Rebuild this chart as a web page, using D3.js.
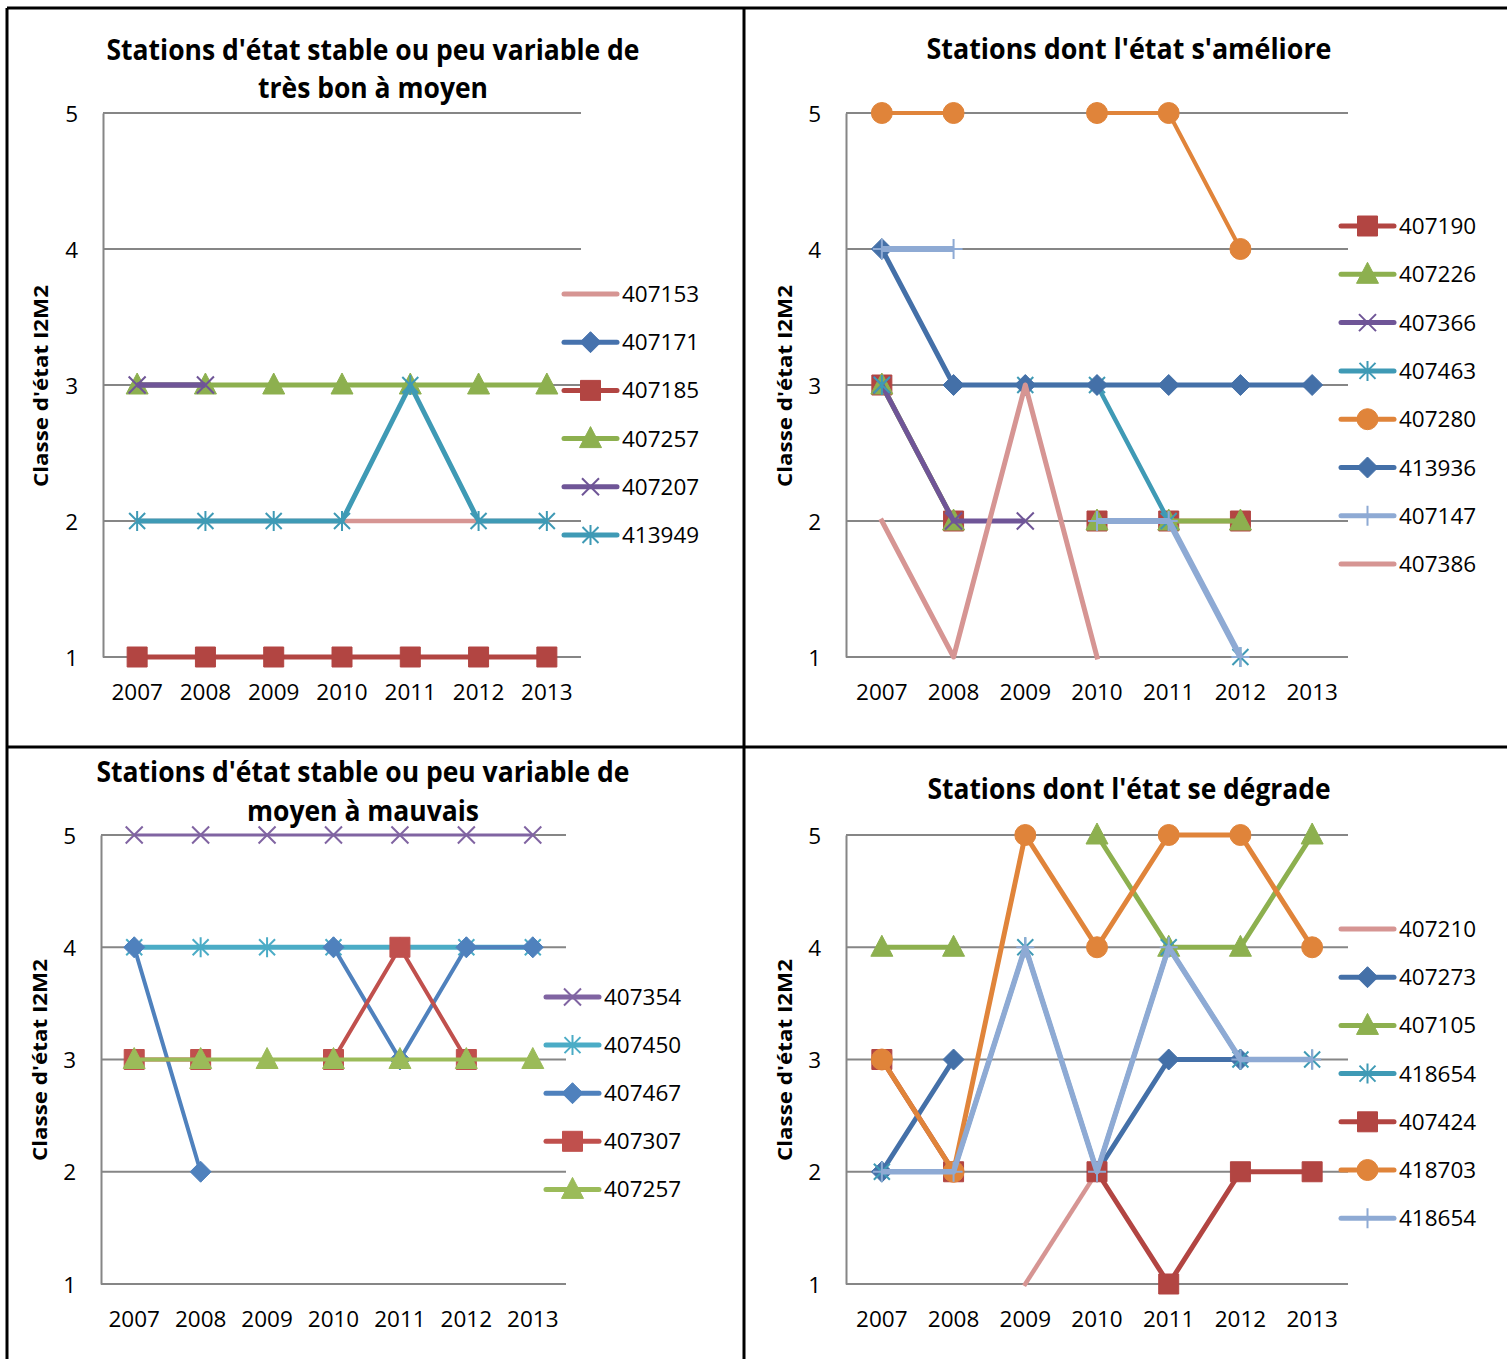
<!DOCTYPE html>
<html>
<head>
<meta charset="utf-8">
<script src="https://cdn.jsdelivr.net/npm/d3@7"></script>
<style>
  body { margin: 0; background: #fff; }
  svg { display: block; }
</style>
</head>
<body>
<div id="chart"></div>
<script>
// shared categories
var years = ["2007", "2008", "2009", "2010", "2011", "2012", "2013"];
var classTicks = [1, 2, 3, 4, 5];
var yLabel = "Classe d'état I2M2";

// panel 1 : stable, très bon à moyen
var p1Title = ["Stations d'état stable ou peu variable de", "très bon à moyen"];
var p1Stations = ["407153", "407171", "407185", "407257", "407207", "413949"];
var p1Values = [
  [2, 2, 2, 2, 2, 2, 2],
  [null, null, null, null, null, null, null],
  [1, 1, 1, 1, 1, 1, 1],
  [3, 3, 3, 3, 3, 3, 3],
  [3, 3, null, null, null, null, null],
  [2, 2, 2, 2, 3, 2, 2]
];

// panel 2 : s'améliore
var p2Title = ["Stations dont l'état  s'améliore"];
var p2Stations = ["407190", "407226", "407366", "407463", "407280", "413936", "407147", "407386"];
var p2Values = [
  [3, 2, null, 2, 2, 2, null],
  [3, 2, null, 2, 2, 2, null],
  [3, 2, 2, null, null, null, null],
  [3, null, 3, 3, 2, 1, null],
  [5, 5, null, 5, 5, 4, null],
  [4, 3, 3, 3, 3, 3, 3],
  [4, 4, null, 2, 2, 1, null],
  [2, 1, 3, 1, null, null, null]
];

// panel 3 : stable, moyen à mauvais
var p3Title = ["Stations d'état stable ou peu variable de", "moyen à mauvais"];
var p3Stations = ["407354", "407450", "407467", "407307", "407257"];
var p3Values = [
  [5, 5, 5, 5, 5, 5, 5],
  [4, 4, 4, 4, 4, 4, 4],
  [4, 2, null, 4, 3, 4, 4],
  [3, 3, null, 3, 4, 3, null],
  [3, 3, 3, 3, 3, 3, 3]
];

// panel 4 : se dégrade
var p4Title = ["Stations dont l'état se dégrade"];
var p4Stations = ["407210", "407273", "407105", "418654", "407424", "418703", "418654"];
var p4Values = [
  [null, null, 1, 2, null, null, null],
  [2, 3, null, 2, 3, 3, null],
  [4, 4, null, 5, 4, 4, 5],
  [2, 2, 4, 2, 4, 3, 3],
  [3, 2, null, 2, 1, 2, 2],
  [3, 2, 5, 4, 5, 5, 4],
  [2, 2, 4, 2, 4, 3, 3]
];

// styles
var p1Colors = ["#D69593", "#4672AD", "#B24542", "#8DB04F", "#6F5597", "#3F9AB5"];
var p1Marks = ["none", "diamond", "square", "triangle", "x", "star"];
var p2Colors = ["#B24542", "#8DB04F", "#6F5597", "#3F9AB5", "#E0843A", "#4470A8", "#8EAAD4", "#D69593"];
var p2Marks = ["square", "triangle", "x", "star", "circle", "diamond", "plus", "none"];
var p3Colors = ["#8064A2", "#4BACC6", "#4F81BD", "#C0504D", "#9BBB59"];
var p3Marks = ["x", "star", "diamond", "square", "triangle"];
var p4Colors = ["#D69593", "#4470A8", "#8DB04F", "#3F9AB5", "#B24542", "#E0843A", "#8EAAD4"];
var p4Marks = ["none", "diamond", "triangle", "star", "square", "circle", "plus"];

var W = 1507, H = 1359;
var tickFont = "'Open Sans', sans-serif";
var titleFont = "'Liberation Sans Narrow', 'Open Sans', sans-serif";

var svg = d3.select("#chart").append("svg")
    .attr("width", W)
    .attr("height", H);

// marker shapes, centred on 0,0
function markerPath(type) {
  var p = d3.path();
  if (type == "square") {
    p.rect(-10, -10, 20, 20);
  } else if (type == "diamond") {
    p.moveTo(0, -10.5); p.lineTo(10.5, 0); p.lineTo(0, 10.5); p.lineTo(-10.5, 0); p.closePath();
  } else if (type == "triangle") {
    p.moveTo(0, -12); p.lineTo(11, 9); p.lineTo(-11, 9); p.closePath();
  } else if (type == "circle") {
    p.arc(0, 0, 10.5, 0, 2 * Math.PI);
  } else if (type == "x") {
    p.moveTo(-8.5, -8.5); p.lineTo(8.5, 8.5); p.moveTo(8.5, -8.5); p.lineTo(-8.5, 8.5);
  } else if (type == "star") {
    p.moveTo(-8, -8); p.lineTo(8, 8); p.moveTo(8, -8); p.lineTo(-8, 8);
    p.moveTo(0, -10); p.lineTo(0, 10);
  } else if (type == "plus") {
    p.moveTo(0, -10); p.lineTo(0, 10); p.moveTo(-9, 0); p.lineTo(9, 0);
  }
  return p.toString();
}

function isStroked(type) {
  return type == "x" || type == "star" || type == "plus";
}

function drawMarker(g, type, color, x, y) {
  if (type == "none") return;
  g.append("path")
    .attr("d", markerPath(type))
    .attr("transform", "translate(" + x + "," + y + ")")
    .attr("fill", isStroked(type) ? "none" : color)
    .attr("stroke", color)
    .attr("stroke-width", isStroked(type) ? 2 : 1);
}

function drawPanel(o) {
  var g = svg.append("g");

  var x = d3.scaleBand().domain(years).range([o.left, o.right]);
  var y = d3.scaleLinear().domain([1, 5]).range([o.bottom, o.top]);

  // gridlines
  g.selectAll(".grid")
    .data(classTicks)
    .enter()
    .append("line")
      .attr("x1", o.left)
      .attr("x2", o.right)
      .attr("y1", function(d) { return y(d); })
      .attr("y2", function(d) { return y(d); })
      .attr("stroke", "#868686")
      .attr("stroke-width", 2);

  // axes with d3, domain line only on left
  var yAxis = g.append("g")
    .attr("transform", "translate(" + o.left + ",0)")
    .call(d3.axisLeft(y).tickValues(classTicks).tickSize(0).tickPadding(25).tickFormat(d3.format("d")));
  yAxis.select(".domain").attr("stroke", "#868686").attr("stroke-width", 2);
  yAxis.selectAll("text")
    .attr("dy", null)
    .attr("y", 8)
    .style("font-family", tickFont)
    .style("font-size", "22.5px")
    .attr("fill", "#000");

  var xAxis = g.append("g")
    .attr("transform", "translate(0," + o.bottom + ")")
    .call(d3.axisBottom(x).tickSize(0).tickPadding(0));
  xAxis.select(".domain").remove();
  xAxis.selectAll("text")
    .attr("dy", null)
    .attr("y", 43)
    .style("font-family", tickFont)
    .style("font-size", "22.5px")
    .attr("fill", "#000");

  // titles
  o.title.forEach(function(t, i) {
    g.append("text")
      .attr("x", o.titleX)
      .attr("y", o.titleY[i])
      .attr("text-anchor", "middle")
      .attr("textLength", o.titleLen[i])
      .attr("lengthAdjust", "spacingAndGlyphs")
      .style("font-family", titleFont)
      .style("font-weight", "bold")
      .style("font-size", "29px")
      .text(t);
  });

  g.append("text")
    .attr("transform", "translate(" + o.yTitleX + "," + o.yTitleY + ") rotate(-90)")
    .attr("text-anchor", "middle")
    .attr("textLength", 202)
    .attr("lengthAdjust", "spacingAndGlyphs")
    .style("font-family", tickFont)
    .style("font-weight", "bold")
    .style("font-size", "20px")
    .text(yLabel);

  // series
  var line = d3.line()
    .defined(function(d) { return d != null; })
    .x(function(d, i) { return x(years[i]) + x.bandwidth() / 2; })
    .y(function(d) { return y(d); });

  o.values.forEach(function(vals, s) {
    var c = o.colors[s];
    g.append("path")
      .attr("d", line(vals))
      .attr("fill", "none")
      .attr("stroke", c)
      .attr("stroke-width", o.widths[s])
      .attr("stroke-linejoin", "round")
      .attr("stroke-linecap", o.marks[s] == "none" ? "square" : "butt");
    vals.forEach(function(v, i) {
      if (v == null) return;
      drawMarker(g, o.marks[s], c, x(years[i]) + x.bandwidth() / 2, y(v));
    });
  });

  // legend
  o.names.forEach(function(n, s) {
    var ly = o.legendY + s * o.legendStep;
    var c = o.colors[s];
    g.append("line")
      .attr("x1", o.legendX)
      .attr("x2", o.legendX + 53)
      .attr("y1", ly)
      .attr("y2", ly)
      .attr("stroke", c)
      .attr("stroke-width", 5)
      .attr("stroke-linecap", "round");
    drawMarker(g, o.marks[s], c, o.legendX + 26.5, ly);
    g.append("text")
      .attr("x", o.legendX + 58)
      .attr("y", ly + 8)
      .style("font-family", tickFont)
      .style("font-size", "22.5px")
      .text(n);
  });
}

drawPanel({
  left: 103, right: 581, top: 113, bottom: 657,
  title: p1Title, titleX: 373, titleY: [60, 98], titleLen: [533, 230],
  yTitleX: 48, yTitleY: 386,
  names: p1Stations, values: p1Values, colors: p1Colors, marks: p1Marks,
  widths: [4.5, 5, 5, 5, 5.5, 5],
  legendX: 564, legendY: 294, legendStep: 48.2
});

drawPanel({
  left: 846, right: 1348, top: 113, bottom: 657,
  title: p2Title, titleX: 1129, titleY: [59], titleLen: [405],
  yTitleX: 792, yTitleY: 386,
  names: p2Stations, values: p2Values, colors: p2Colors, marks: p2Marks,
  widths: [4.5, 5, 5, 4.5, 4, 5, 6, 5],
  legendX: 1341, legendY: 226, legendStep: 48.3
});

drawPanel({
  left: 101, right: 566, top: 835, bottom: 1284,
  title: p3Title, titleX: 363, titleY: [782, 821], titleLen: [533, 232],
  yTitleX: 47, yTitleY: 1060,
  names: p3Stations, values: p3Values, colors: p3Colors, marks: p3Marks,
  widths: [3, 5, 4, 4, 4],
  legendX: 546, legendY: 997, legendStep: 48.1
});

drawPanel({
  left: 846, right: 1348, top: 835, bottom: 1284,
  title: p4Title, titleX: 1129, titleY: [799], titleLen: [403],
  yTitleX: 792, yTitleY: 1060,
  names: p4Stations, values: p4Values, colors: p4Colors, marks: p4Marks,
  widths: [4.5, 5, 5, 4.5, 5, 5, 5.5],
  legendX: 1341, legendY: 929, legendStep: 48.2
});

// table borders
var border = [
  [7, 8, 7, H],
  [7, 8, W, 8],
  [744, 8, 744, H],
  [7, 747, W, 747]
];
svg.selectAll(".border")
  .data(border)
  .enter()
  .append("line")
    .attr("x1", function(d) { return d[0]; })
    .attr("y1", function(d) { return d[1]; })
    .attr("x2", function(d) { return d[2]; })
    .attr("y2", function(d) { return d[3]; })
    .attr("stroke", "#000")
    .attr("stroke-width", 3);
</script>
</body>
</html>
